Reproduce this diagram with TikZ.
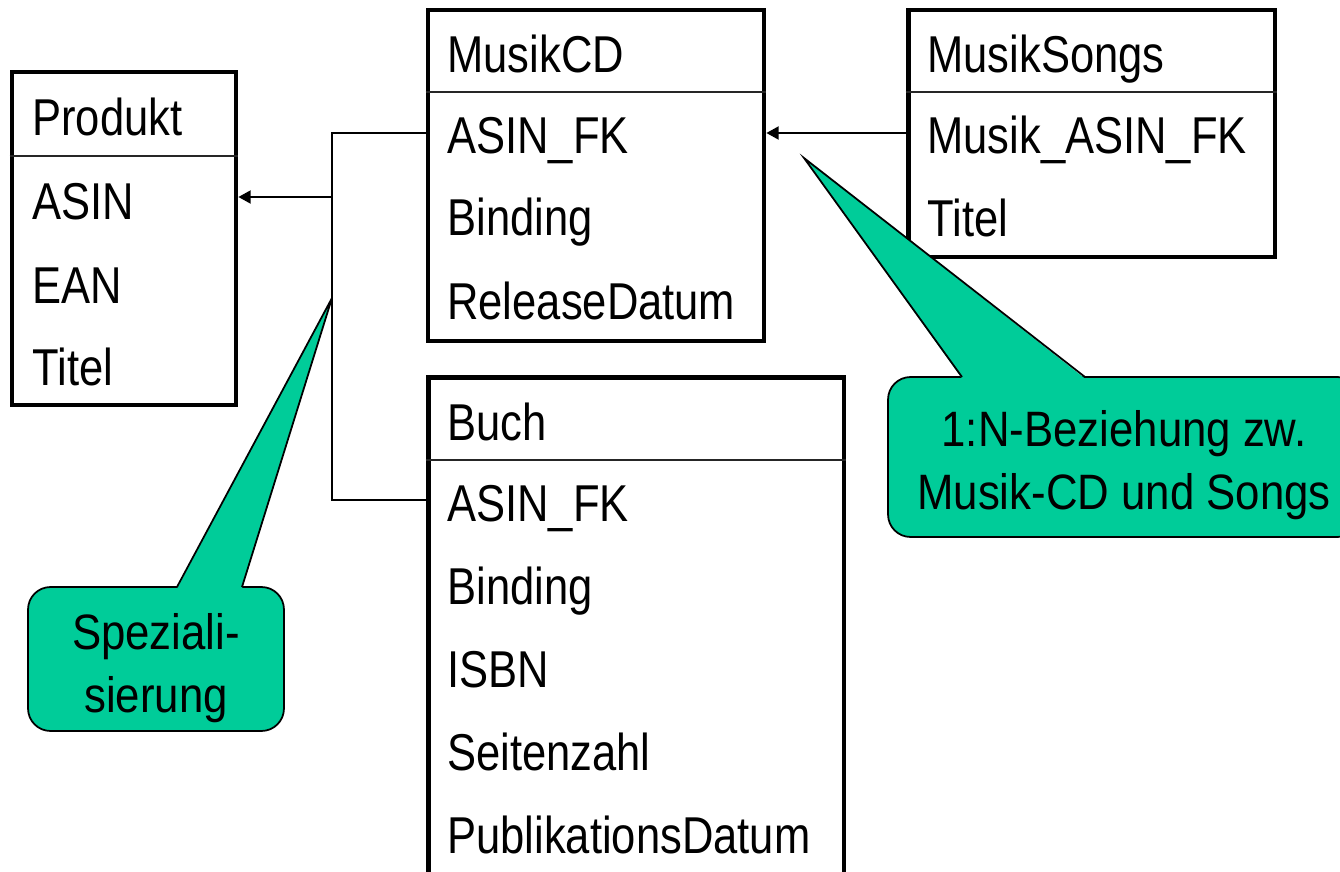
\documentclass[tikz,border=0pt]{standalone}
\usepackage{fontspec}
\setmainfont{Liberation Sans}[FakeStretch=0.84]
\newfontfamily\bubblefont{Liberation Sans}[FakeStretch=0.88]
\usepackage{tikz}
\usetikzlibrary{arrows.meta,positioning,calc}
\definecolor{notegreen}{RGB}{0,204,153}
\newcommand{\fieldfont}{\fontsize{29.5}{35}\selectfont}
\newcommand{\bubblesize}{\bubblefont\fontsize{28.3}{35.5}\selectfont}
\tikzstyle{entity} = [rectangle, draw=black, line width=2.8pt, inner sep=0pt]
\tikzstyle{field} = [anchor=base west, inner sep=0pt, font=\fieldfont]
\tikzstyle{headline} = [line width=1.1pt, draw=black!85]
\tikzstyle{conn} = [line width=0.9pt]
\tikzstyle{arrow} = [conn, -{Triangle[length=7pt,width=7.5pt]}]
\tikzstyle{bubble} = [rectangle, rounded corners=0.45cm, draw=black, line width=1pt, fill=notegreen]
\tikzstyle{bubbletext} = [align=center, inner sep=0pt, font=\bubblesize]
\tikzstyle{pointer} = [fill=notegreen]

\begin{document}
\begin{tikzpicture}[x=0.02cm, y=-0.02cm]
				\useasboundingbox (0,0) rectangle (1340,872);
				% tables
				\node (produkt) [entity, minimum width=4.48cm, minimum height=6.66cm] at (124,238.5) {};
				\node (musikcd) [entity, minimum width=6.72cm, minimum height=6.62cm] at (596,175.5) {};
				\node (songs) [entity, minimum width=7.34cm, minimum height=4.94cm] at (1091.5,133.5) {};
				\node (buch) [entity, minimum width=8.32cm, minimum height=10.46cm] at (636,638.5) {};

				\draw [headline] (produkt.west |- 0,156) -- (produkt.east |- 0,156);
				\draw [headline] (musikcd.west |- 0,92) -- (musikcd.east |- 0,92);
				\draw [headline] (songs.west |- 0,92) -- (songs.east |- 0,92);
				\draw [headline] (buch.west |- 0,460) -- (buch.east |- 0,460);

				\node (prodhead) [field] at (32,135) {Produkt};
				\node (prodasin) [field] at (32,219) {ASIN};
				\node (prodean) [field] at (32,303) {EAN};
				\node (prodtitel) [field] at (32,385) {Titel};

				\node (cdhead) [field] at (447,72) {MusikCD};
				\node (cdasin) [field] at (447,153) {ASIN\_FK};
				\node (cdbind) [field] at (447,235) {Binding};
				\node (cdrel) [field] at (447,319) {ReleaseDatum};

				\node (songhead) [field] at (927,72) {MusikSongs};
				\node (songasin) [field] at (927,153) {Musik\_ASIN\_FK};
				\node (songtitel) [field] at (927,236) {Titel};

				\node (buchhead) [field] at (447,440) {Buch};
				\node (buchasin) [field] at (447,521) {ASIN\_FK};
				\node (buchbind) [field] at (447,604) {Binding};
				\node (buchisbn) [field] at (447,687) {ISBN};
				\node (buchseiten) [field] at (447,770) {Seitenzahl};
				\node (buchpub) [field] at (447,853) {PublikationsDatum};

				% references
				\coordinate (joint) at (332,197);
				\draw [conn] (musikcd.west |- 0,133) -| (joint) |- (buch.west |- 0,500);
				\draw [arrow] (joint) -- (produkt.east |- joint);
				\draw [arrow] (songs.west |- 0,133) -- (musikcd.east |- 0,133);

				% notes
				\node (spez) [bubble, minimum width=5.12cm, minimum height=2.88cm] at (156,659) {};
				\coordinate (speztip) at (332,298);
				\fill [pointer] (177,588.5) -- (speztip) -- (242,588.5) -- cycle;
				\draw [line width=1pt] (177,587) -- (speztip) -- (242,587);
				\node (speztext) [bubbletext] at (156,668) {Speziali-\\sierung};

				\node (bez) [bubble, minimum width=9.44cm, minimum height=3.2cm] at (1124,457) {};
				\coordinate (beztip) at (804,158);
				\fill [pointer] (962,378.5) -- (beztip) -- (1085,378.5) -- cycle;
				\draw [line width=1pt] (962,377) -- (beztip) -- (1085,377);
				\node (beztext) [bubbletext] at (1124,465) {1:N-Beziehung zw.\\Musik-CD und Songs};
			\end{tikzpicture}
\end{document}
